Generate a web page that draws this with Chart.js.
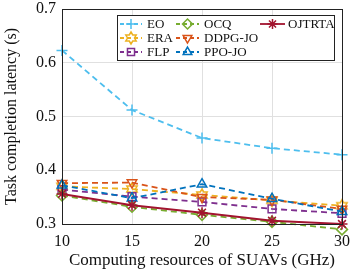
<!DOCTYPE html>
<html>
<head>
<meta charset="utf-8">
<script src="https://cdn.jsdelivr.net/npm/chart.js@4"></script>
<style>
  html, body { margin: 0; padding: 0; background: #fff; }
  #wrap { width: 362px; height: 272px; }
</style>
</head>
<body>
<div id="wrap"><canvas id="chart" width="362" height="272"></canvas></div>
<script>
// DATA
const resources = ["10", "15", "20", "25", "30"];
const yTicks = [0.3, 0.4, 0.5, 0.6, 0.7];

const eo     = [0.623, 0.512, 0.460, 0.441, 0.429];
const era    = [0.370, 0.365, 0.354, 0.344, 0.334];
const flp    = [0.364, 0.351, 0.341, 0.328, 0.320];
const ocq    = [0.353, 0.332, 0.317, 0.304, 0.290];
const ddpgJo = [0.376, 0.377, 0.350, 0.345, 0.328];
const ppoJo  = [0.372, 0.348, 0.374, 0.347, 0.323];
const ojtrta = [0.356, 0.335, 0.321, 0.306, 0.300];

// hexagram marker for ERA
function hexagram(color, r) {
    const c = document.createElement("canvas");
    const s = r * 2 + 4;
    c.width = s; c.height = s;
    const ctx = c.getContext("2d");
    ctx.strokeStyle = color;
    ctx.lineWidth = 1.5;
    ctx.beginPath();
    for (let i = 0; i < 12; i++) {
        const a = -Math.PI / 2 + i * Math.PI / 6;
        const rr = i % 2 === 0 ? r : r * 0.58;
        const x = s / 2 + rr * Math.cos(a), y = s / 2 + rr * Math.sin(a);
        if (i === 0) ctx.moveTo(x, y); else ctx.lineTo(x, y);
    }
    ctx.closePath();
    ctx.stroke();
    return c;
}

const series = [
    { label: "EO",      data: eo,     color: "#4DBEEE", style: "cross",    rot: 0,   dash: [6, 4] },
    { label: "ERA",     data: era,    color: "#EDB120", style: hexagram("#EDB120", 6), rot: 0, dash: [6, 4] },
    { label: "FLP",     data: flp,    color: "#7E2F8E", style: "rect",     rot: 0,   dash: [6, 4] },
    { label: "OCQ",     data: ocq,    color: "#77AC30", style: "rectRot",  rot: 0,   dash: [6, 4] },
    { label: "DDPG-JO", data: ddpgJo, color: "#D95319", style: "triangle", rot: 180, dash: [6, 4] },
    { label: "PPO-JO",  data: ppoJo,  color: "#0072BD", style: "triangle", rot: 0,   dash: [6, 4] },
    { label: "OJTRTA",  data: ojtrta, color: "#A2142F", style: "star",     rot: 0,   dash: [] }
];

const datasets = series.map((s, i) => ({
    label: s.label,
    data: s.data,
    borderColor: s.color,
    backgroundColor: "rgba(0,0,0,0)",
    borderWidth: s.dash.length ? 1.8 : 2,
    borderDash: s.dash,
    pointStyle: s.style,
    rotation: s.rot,
    pointRadius: 5.5,
    pointBorderWidth: 1.5,
    pointBorderColor: s.color,
    pointBackgroundColor: "rgba(0,0,0,0)",
    tension: 0,
    clip: false,
    order: series.length - i
}));

// legend box inside the axes, column-major like MATLAB
const legendBox = {
    id: "legendBox",
    afterDraw(chart) {
        const ctx = chart.ctx;
        const x0 = 117, y0 = 15, x1 = 334, y1 = 60;
        ctx.save();
        ctx.fillStyle = "#fff";
        ctx.fillRect(x0, y0, x1 - x0, y1 - y0);
        ctx.strokeStyle = "#222";
        ctx.lineWidth = 1;
        ctx.strokeRect(x0 + 0.5, y0 + 0.5, x1 - x0, y1 - y0);
        const cols = [{ a: 120, b: 142, t: 147 }, { a: 176, b: 199, t: 204 }, { a: 260, b: 285, t: 288 }];
        const rows = [24, 38, 52];
        ctx.font = "13px 'Liberation Serif'";
        ctx.textBaseline = "middle";
        series.forEach((s, i) => {
            const c = cols[Math.floor(i / 3)], y = rows[i % 3];
            ctx.strokeStyle = s.color;
            ctx.lineWidth = 1.8;
            ctx.setLineDash(s.dash.length ? [4, 3] : []);
            ctx.beginPath();
            ctx.moveTo(c.a, y); ctx.lineTo(c.b, y);
            ctx.stroke();
            ctx.setLineDash([]);
            ctx.lineWidth = 1.5;
            ctx.fillStyle = "rgba(0,0,0,0)";
            Chart.helpers.drawPoint(ctx, { pointStyle: s.style, radius: 5, rotation: s.rot, borderWidth: 1.5 }, (c.a + c.b) / 2, y);
            ctx.fillStyle = "#111";
            ctx.fillText(s.label, c.t, y + 1);
        });
        // axes frame
        const a = chart.chartArea;
        ctx.strokeStyle = "#222";
        ctx.lineWidth = 1;
        ctx.strokeRect(a.left + 0.5, a.top + 0.5, a.right - a.left, a.bottom - a.top);
        ctx.restore();
    }
};

new Chart(document.getElementById("chart"), {
    type: "line",
    data: { labels: resources, datasets: datasets },
    options: {
        responsive: false,
        animation: false,
        layout: { padding: { left: 0, right: 20, top: 0, bottom: 0 } },
        plugins: { legend: { display: false }, tooltip: { enabled: false } },
        scales: {
            x: {
                offset: false,
                grid: { color: "#e0e0e0", tickLength: 0, drawTicks: false },
                border: { color: "#222" },
                ticks: { color: "#111", font: { family: "Liberation Serif", size: 16 }, padding: 8, maxRotation: 0 },
                title: { display: true, text: "Computing resources of SUAVs (GHz)", color: "#111",
                         font: { family: "Liberation Serif", size: 17 }, padding: { top: 0, bottom: 1 } },
                afterFit(scale) { scale.height = 48; }
            },
            y: {
                min: 0.3, max: 0.7,
                afterBuildTicks(scale) { scale.ticks = yTicks.map(v => ({ value: v })); },
                grid: { color: "#e0e0e0", drawTicks: false },
                border: { color: "#222" },
                ticks: { color: "#111", font: { family: "Liberation Serif", size: 16 }, padding: 6,
                         callback: v => v.toFixed(1) },
                title: { display: true, text: "Task completion latency (s)", color: "#111",
                         font: { family: "Liberation Serif", size: 16 }, padding: { top: 2, bottom: 0 } },
                afterFit(scale) { scale.width = 62; scale.paddingTop = 9; scale.paddingBottom = 0; }
            }
        }
    },
    plugins: [legendBox]
});
</script>
</body>
</html>
